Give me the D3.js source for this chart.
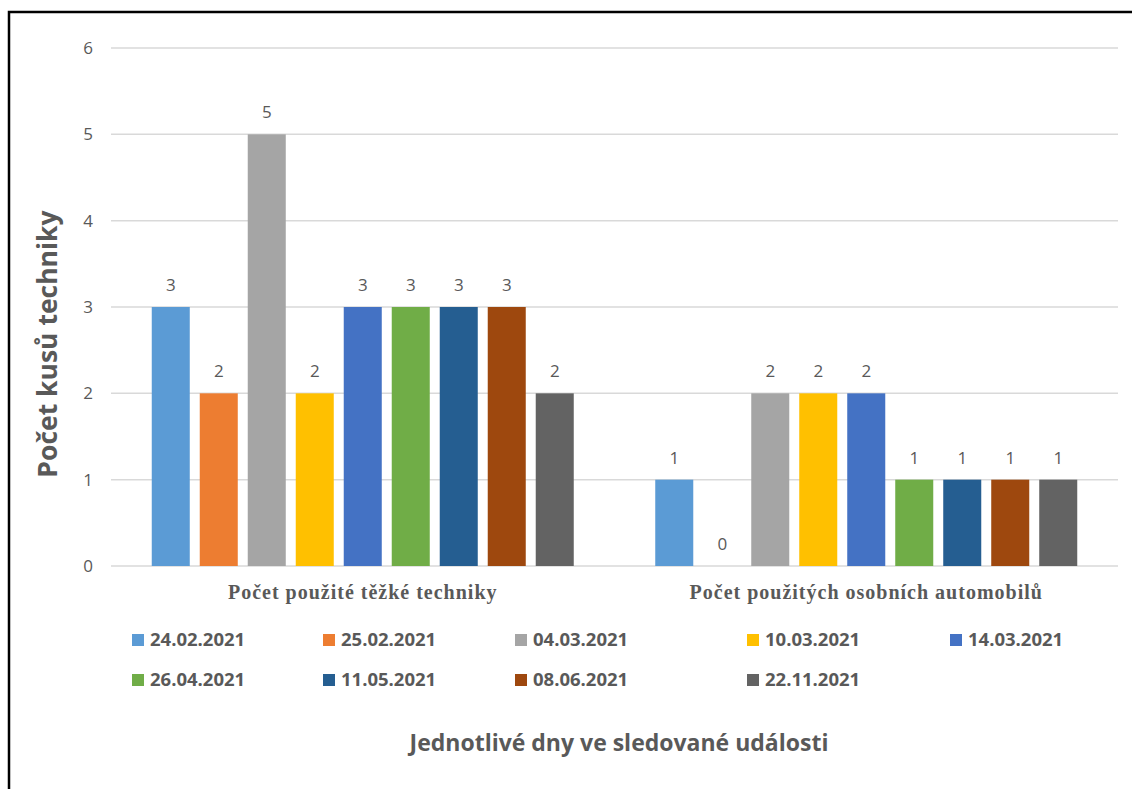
<!DOCTYPE html>
<html>
<head>
<meta charset="utf-8">
<script src="https://cdn.jsdelivr.net/npm/d3@7"></script>
<style>
  body { margin: 0; background: #fff; }
  svg text { font-family: "Open Sans", Lato, sans-serif; }
</style>
</head>
<body>
<svg id="chart" width="1132" height="789"></svg>
<script>
// categories on the x axis
const categories = ['Počet použité těžké techniky', 'Počet použitých osobních automobilů'];

// one series per day
const seriesNames = ['24.02.2021', '25.02.2021', '04.03.2021', '10.03.2021', '14.03.2021',
  '26.04.2021', '11.05.2021', '08.06.2021', '22.11.2021'];
const heavyValues = [3, 2, 5, 2, 3, 3, 3, 3, 2];
const carValues = [1, 0, 2, 2, 2, 1, 1, 1, 1];
const seriesColors = ['#5B9BD5', '#ED7D31', '#A5A5A5', '#FFC000', '#4472C4',
  '#70AD47', '#255E91', '#9E480E', '#636363'];

const yTicks = [0, 1, 2, 3, 4, 5, 6];
const yTitle = 'Počet kusů techniky';
const xTitle = 'Jednotlivé dny ve sledované události';

// build rows for the grouped bars
const valuesByCategory = [heavyValues, carValues];
const rows = [];
categories.forEach((c, ci) => {
  seriesNames.forEach((s, si) => {
    rows.push({ category: c, series: s, value: valuesByCategory[ci][si], color: seriesColors[si] });
  });
});

const svg = d3.select('#chart');
const textColor = '#595959';

// outer frame
svg.append('rect')
  .attr('x', 9).attr('y', 12)
  .attr('width', 1140).attr('height', 800)
  .attr('fill', 'none').attr('stroke', '#000').attr('stroke-width', 2.5);

const plot = { left: 111, right: 1118, top: 48, bottom: 566 };

const x0 = d3.scaleBand().domain(categories).range([plot.left, plot.right]).padding(0);
const x1 = d3.scaleBand().domain(seriesNames).range([0, x0.bandwidth()])
  .paddingInner(0.208).paddingOuter(0.849);
const y = d3.scaleLinear().domain([0, 6]).range([plot.bottom, plot.top]);

// grid lines
svg.append('g').selectAll('line')
  .data(yTicks)
  .join('line')
  .attr('x1', plot.left).attr('x2', plot.right)
  .attr('y1', d => y(d)).attr('y2', d => y(d))
  .attr('stroke', '#d9d9d9').attr('stroke-width', 1.5);

// y tick labels
svg.append('g').selectAll('text')
  .data(yTicks)
  .join('text')
  .attr('x', 93).attr('y', d => y(d))
  .attr('dy', '0.35em')
  .attr('text-anchor', 'end')
  .attr('font-size', 17)
  .attr('fill', textColor)
  .text(d => d);

// bars
const groups = svg.append('g').selectAll('g')
  .data(categories)
  .join('g')
  .attr('transform', c => `translate(${x0(c)},0)`);

groups.selectAll('rect')
  .data(c => rows.filter(r => r.category === c))
  .join('rect')
  .attr('x', d => x1(d.series))
  .attr('width', x1.bandwidth())
  .attr('y', d => y(d.value))
  .attr('height', d => y(0) - y(d.value))
  .attr('fill', d => d.color);

// value labels
groups.selectAll('text')
  .data(c => rows.filter(r => r.category === c))
  .join('text')
  .attr('x', d => x1(d.series) + x1.bandwidth() / 2)
  .attr('y', d => y(d.value) - 22)
  .attr('dy', '0.35em')
  .attr('text-anchor', 'middle')
  .attr('font-size', 17)
  .attr('fill', textColor)
  .text(d => d.value);

// category labels (serif, as in the original)
svg.append('g').selectAll('text')
  .data(categories)
  .join('text')
  .attr('x', c => x0(c) + x0.bandwidth() / 2)
  .attr('y', 592)
  .attr('dy', '0.35em')
  .attr('text-anchor', 'middle')
  .attr('font-size', 20)
  .attr('font-weight', 'bold')
  .attr('letter-spacing', 1)
  .style('font-family', '"Liberation Serif", serif')
  .attr('fill', textColor)
  .text(c => c);

// legend
const legendPos = [
  [132, 640], [323, 640], [515, 640], [747, 640], [950, 640],
  [132, 680], [323, 680], [515, 680], [747, 680]
];
const legend = svg.append('g').selectAll('g')
  .data(seriesNames)
  .join('g')
  .attr('transform', (d, i) => `translate(${legendPos[i][0]},${legendPos[i][1]})`);
legend.append('rect')
  .attr('x', 0).attr('y', -6)
  .attr('width', 12).attr('height', 12)
  .attr('fill', (d, i) => seriesColors[i]);
legend.append('text')
  .attr('x', 18).attr('y', 0)
  .attr('dy', '0.35em')
  .attr('font-size', 18.5)
  .attr('font-weight', 'bold')
  .attr('fill', textColor)
  .text(d => d);

// axis titles
svg.append('text')
  .attr('transform', 'translate(48,344) rotate(-90)')
  .attr('text-anchor', 'middle')
  .attr('dy', '0.35em')
  .attr('font-size', 26.5)
  .attr('font-weight', 'bold')
  .attr('fill', textColor)
  .text(yTitle);

svg.append('text')
  .attr('x', 619).attr('y', 743)
  .attr('text-anchor', 'middle')
  .attr('dy', '0.35em')
  .attr('font-size', 23)
  .attr('font-weight', 'bold')
  .attr('fill', textColor)
  .text(xTitle);
</script>
</body>
</html>
